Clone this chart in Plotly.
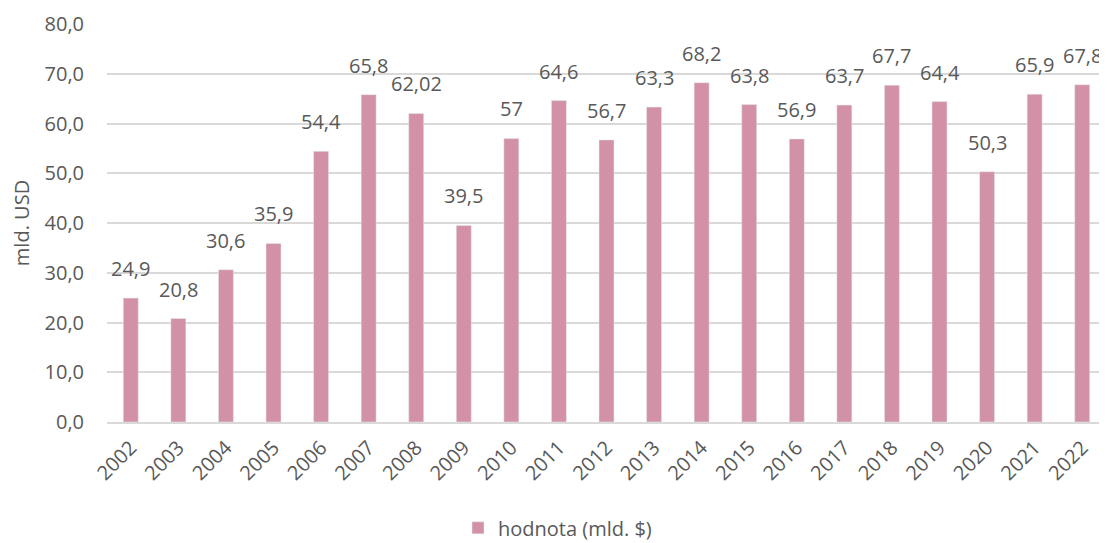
import plotly.graph_objects as go

years = [str(y) for y in range(2002, 2023)]
values = [24.9, 20.8, 30.6, 35.9, 54.4, 65.8, 62.02, 39.5, 57, 64.6, 56.7,
          63.3, 68.2, 63.8, 56.9, 63.7, 67.7, 64.4, 50.3, 65.9, 67.8]
labels = ["24,9", "20,8", "30,6", "35,9", "54,4", "65,8", "62,02", "39,5", "57",
          "64,6", "56,7", "63,3", "68,2", "63,8", "56,9", "63,7", "67,7", "64,4",
          "50,3", "65,9", "67,8"]
series_name = "hodnota (mld. $)"
y_title = "mld. USD"

FONT = "Open Sans"
GREY = "#595959"
BAR = "#D291A7"
FS = 20

fig = go.Figure(go.Bar(
    x=years, y=values, name=series_name,
    marker=dict(color=BAR),
    showlegend=True,
))

# on a category axis, annotation x is given as the category index
for i, (v, lab) in enumerate(zip(values, labels)):
    fig.add_annotation(x=i, y=v, text=lab, showarrow=False,
                       xanchor="center", yanchor="bottom", yshift=14,
                       font=dict(family=FONT, size=FS, color=GREY))

# page body has an 8px margin, so the figure is offset by 8px
fig.update_layout(
    width=1099, height=535,
    margin=dict(l=99, r=1, t=16, b=121, autoexpand=False),
    paper_bgcolor="white", plot_bgcolor="white",
    bargap=0.685,
    separators=", ",
    font=dict(family=FONT, size=FS, color=GREY),
    xaxis=dict(type="category", tickangle=-45, showgrid=False, automargin=False,
               showline=True, linecolor="#D9D9D9", linewidth=2,
               ticks="", ticklabelstandoff=4, tickfont=dict(size=FS, color=GREY)),
    yaxis=dict(range=[0, 80], dtick=10, tickformat=".1f", automargin=False,
               showgrid=True, gridcolor="#D9D9D9", gridwidth=1.5,
               zeroline=False, ticks="", ticklen=0, ticklabelstandoff=22,
               title=dict(text=y_title, font=dict(size=FS, color=GREY), standoff=12),
               tickfont=dict(size=FS, color=GREY)),
    legend=dict(orientation="h", xref="container", x=0.5, xanchor="center",
                y=-0.266, yanchor="middle",
                font=dict(size=FS, color=GREY)),
)

fig.write_html("out.html")
